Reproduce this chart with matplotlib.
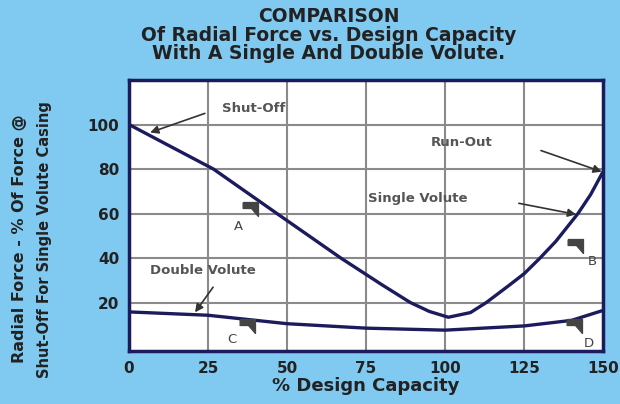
import matplotlib
matplotlib.use("Agg")
import matplotlib.pyplot as plt

# data
single_x = [0, 10, 26.7, 46.8, 67, 80, 89, 95, 101, 108, 113, 120, 125, 130, 135, 142, 146, 150]
single_y = [100, 92.5, 80, 60, 40, 28, 20, 16, 13.4, 15.5, 20, 27.5, 33, 40, 47.5, 60, 68.5, 79]
double_x = [0, 25, 50, 75, 100, 125, 140, 150]
double_y = [15.8, 14.3, 10.5, 8.5, 7.6, 9.5, 12, 16.5]

x_ticks = [0, 25, 50, 75, 100, 125, 150]
y_ticks = [20, 40, 60, 80, 100]

# callouts: text, text position, arrow start, arrow tip
callouts = [
    ("Shut-Off", (29.5, 107), (24, 105), (6.7, 96.4)),
    ("Run-Out", (95.5, 92), (130.3, 88.3), (149.5, 78.8)),
    ("Single Volute", (75.5, 66.8), (123.3, 64.6), (141.4, 59.6)),
    ("Double Volute", (6.5, 34.5), (26.6, 26.9), (20.9, 15.6)),
]
# letter flags: letter, flag pos, letter pos
flags = [
    ("A", (38.5, 62), (34.5, 54)),
    ("B", (141.5, 45.5), (146.5, 38.5)),
    ("C", (37.5, 9.5), (32.5, 3.5)),
    ("D", (141, 9.5), (145.5, 1.8)),
]

navy = "#1b1b5e"
bg = "#80c9f1"
flag_shape = [(-1.2, 1), (1, 1), (1, -1), (0.0, 0.15), (-1.2, 0.15), (-1.2, 1)]

fig = plt.figure(figsize=(6.2, 4.04), dpi=100)
fig.patch.set_facecolor(bg)
ax = fig.add_axes([0.208, 0.131, 0.765, 0.671])
ax.set_facecolor("white")

ax.plot(single_x, single_y, color=navy, lw=2.4, solid_capstyle="round")
ax.plot(double_x, double_y, color=navy, lw=2.4, solid_capstyle="round")

ax.set_xlim(0, 150)
ax.set_ylim(-1.8, 120)
ax.set_xticks(x_ticks)
ax.set_yticks(y_ticks)
ax.tick_params(length=0, labelsize=11, pad=7, labelcolor="#222222")
for lab in ax.get_xticklabels() + ax.get_yticklabels():
    lab.set_fontweight("heavy")
ax.grid(True, color="#8a8a8a", lw=1.5)
ax.set_axisbelow(True)
for s in ax.spines.values():
    s.set_color(navy)
    s.set_linewidth(2.5)

for txt, tpos, start, tip in callouts:
    ax.text(*tpos, txt, fontsize=9.5, color="#555555", fontweight="bold",
            va="center", ha="left")
    ax.annotate("", xy=tip, xytext=start,
                arrowprops=dict(arrowstyle="-|>", color="#333333", lw=1.2,
                                mutation_scale=12, shrinkA=0, shrinkB=0))

for letter, fpos, lpos in flags:
    ax.plot(*fpos, marker=flag_shape, ms=12, color="#444444", mec="#444444")
    ax.text(*lpos, letter, fontsize=9.5, color="#444444", ha="center", va="center")

title_lines = ["COMPARISON", "Of Radial Force vs. Design Capacity",
               "With A Single And Double Volute."]
for line, ty in zip(title_lines, [0.958, 0.911, 0.868]):
    fig.text(0.53, ty, line, ha="center", va="center", fontsize=13.5,
             fontweight="heavy", color="#222222")

ax.set_xlabel("% Design Capacity", fontsize=13, fontweight="heavy",
              color="#222222", labelpad=1)
fig.text(0.032, 0.408, "Radial Force - % Of Force @", rotation=90,
         ha="center", va="center", fontsize=11.5, fontweight="heavy", color="#222222")
fig.text(0.071, 0.408, "Shut-Off For Single Volute Casing", rotation=90,
         ha="center", va="center", fontsize=10.5, fontweight="heavy", color="#222222")

fig.savefig("out.png", dpi=100, facecolor=bg)
